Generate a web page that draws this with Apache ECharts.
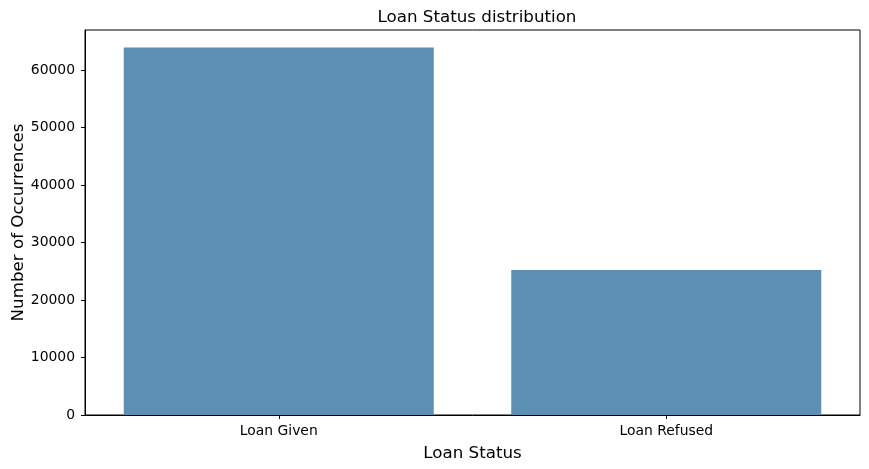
<!DOCTYPE html>
<html><head><meta charset="utf-8">
<script src="https://cdn.jsdelivr.net/npm/echarts@6/dist/echarts.min.js"></script>
<style>html,body{margin:0;padding:0;background:#fff}#c{width:869px;height:469px}</style>
</head><body><div id="c"></div>
<script>
const categories = ["Loan Given", "Loan Refused"];
const counts = [63950, 25250];
const yTicks = [0, 10000, 20000, 30000, 40000, 50000, 60000];

const chart = echarts.init(document.getElementById('c'));
const font = 'DejaVu Sans';
chart.setOption({
  animation: false,
  title: { text: 'Loan Status distribution', left: 472, top: 4, textAlign: 'center',
    textStyle: { fontFamily: font, fontSize: 16.7, fontWeight: 'normal', color: '#000' } },
  grid: { left: 85, right: 9, top: 30, bottom: 54, outerBoundsMode: 'none', show: true, borderColor: '#000', borderWidth: 1, backgroundColor: 'transparent' },
  xAxis: {
    type: 'category', data: categories,
    name: 'Loan Status', nameLocation: 'middle', nameGap: 30, nameMoveOverlap: false,
    nameTextStyle: { fontFamily: font, fontSize: 16.7, color: '#000' },
    axisLine: { show: true, lineStyle: { color: '#000', width: 1 } },
    axisTick: { show: true, inside: false, alignWithLabel: true, length: 4, lineStyle: { color: '#000', width: 1 } },
    axisLabel: { fontFamily: font, fontSize: 13.9, color: '#000', margin: 9 }
  },
  yAxis: {
    type: 'value', min: 0, max: 67000, interval: 10000,
    name: 'Number of Occurrences', nameLocation: 'middle', nameGap: 58, nameRotate: 90, nameMoveOverlap: false,
    nameTextStyle: { fontFamily: font, fontSize: 16.7, color: '#000' },
    axisLine: { show: true, lineStyle: { color: '#000', width: 1 } },
    axisTick: { show: true, inside: false, length: 4, lineStyle: { color: '#000', width: 1 } },
    axisLabel: { fontFamily: font, fontSize: 13.9, color: '#000', margin: 10, showMaxLabel: false,
      formatter: function (v) { return yTicks.indexOf(v) >= 0 ? String(v) : ''; } },
    splitLine: { show: false }
  },
  series: [{
    type: 'bar', data: counts, barWidth: '80%',
    itemStyle: { color: '#5b8fb4' }
  }]
});
</script></body></html>
